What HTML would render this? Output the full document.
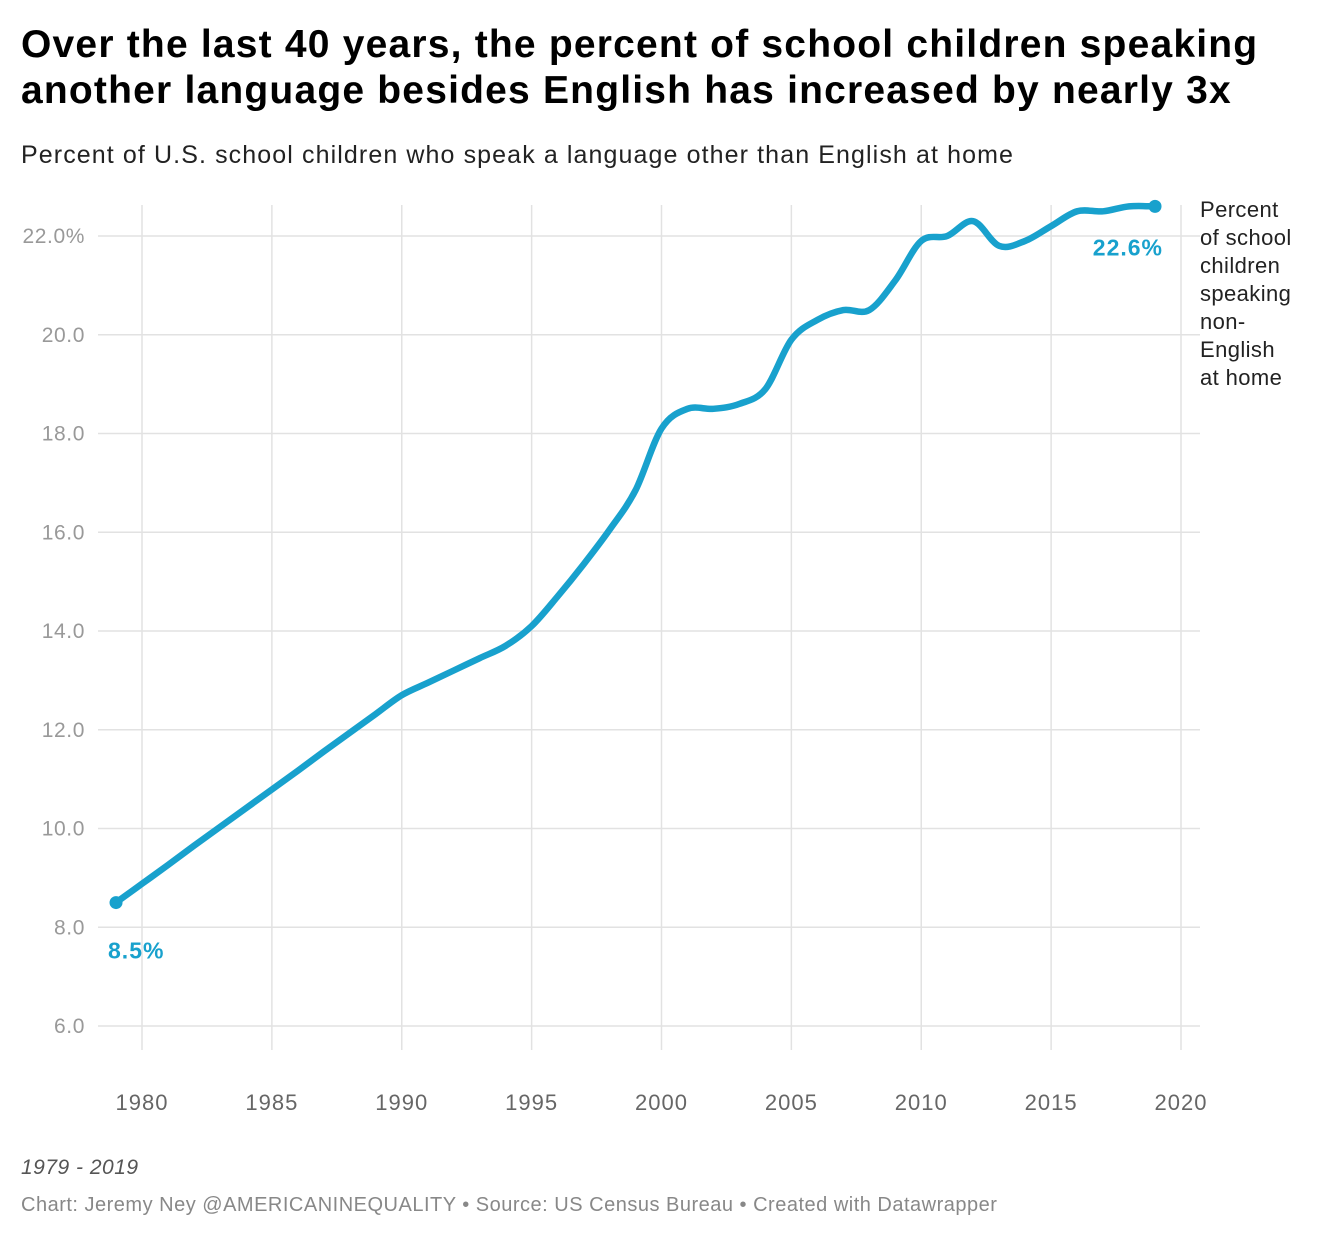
<!DOCTYPE html>
<html><head><meta charset="utf-8">
<style>
body{margin:0;background:#fff;font-family:"Liberation Sans",Roboto,sans-serif;}
#wrap{position:relative;width:1340px;height:1240px;overflow:hidden;}
h1{position:absolute;left:21px;top:22px;margin:0;font-size:39px;line-height:46px;font-weight:bold;color:#000;letter-spacing:1.2px;white-space:nowrap;}
.sub{position:absolute;left:21px;top:141px;font-size:25px;color:#222;letter-spacing:1.1px;white-space:nowrap;}
.note{position:absolute;left:21px;top:1156px;font-size:21px;font-style:italic;color:#555;letter-spacing:0.5px;}
.foot{position:absolute;left:21px;top:1194px;font-size:20px;color:#888;letter-spacing:0.5px;white-space:nowrap;}
svg{position:absolute;left:0;top:0;}
</style></head><body>
<div id="wrap">
<h1>Over the last 40 years, the percent of school children speaking<br>another language besides English has increased by nearly 3x</h1>
<div class="sub">Percent of U.S. school children who speak a language other than English at home</div>
<svg id="chart" width="1340" height="1240"></svg>
<div class="note">1979 - 2019</div>
<div class="foot">Chart: Jeremy Ney @AMERICANINEQUALITY • Source: US Census Bureau • Created with Datawrapper</div>
</div>
<script>
const years=[1979,1980,1981,1982,1983,1984,1985,1986,1987,1988,1989,1990,1991,1992,1993,1994,1995,1996,1997,1998,1999,2000,2001,2002,2003,2004,2005,2006,2007,2008,2009,2010,2011,2012,2013,2014,2015,2016,2017,2018,2019];
const values=[8.5,8.88,9.26,9.65,10.03,10.41,10.79,11.17,11.56,11.94,12.32,12.7,12.95,13.2,13.45,13.7,14.1,14.7,15.35,16.05,16.85,18.1,18.5,18.5,18.6,18.9,19.9,20.3,20.5,20.5,21.1,21.9,22.0,22.3,21.8,21.9,22.2,22.5,22.5,22.6,22.6];
const yTicks=[6,8,10,12,14,16,18,20,22];
const xTicks=[1980,1985,1990,1995,2000,2005,2010,2015,2020];
const NS="http://www.w3.org/2000/svg";
const svg=document.getElementById('chart');
const x=y=>142+(y-1980)*(1181-142)/40;
const yS=v=>1026-(v-6)*(1026-236)/16;
function mk(t,a,txt){const e=document.createElementNS(NS,t);for(const k in a)e.setAttribute(k,a[k]);if(txt!=null)e.textContent=txt;svg.appendChild(e);return e;}
yTicks.forEach(v=>{
 const l=mk('line',{x1:98,x2:1200,y1:yS(v),y2:yS(v),stroke:'#e2e2e2','stroke-width':1.5});
 
 
 const t=mk('text',{x:85,y:yS(v)+7,'text-anchor':'end','font-size':21,'letter-spacing':0.6,fill:'#999','font-family':'Liberation Sans, sans-serif'},v.toFixed(1)+(v===22?'%':''));
 
 
});
xTicks.forEach(v=>{
 const l=mk('line',{x1:x(v),x2:x(v),y1:205,y2:1050,stroke:'#e2e2e2','stroke-width':1.5});
 
 
 const t=mk('text',{x:x(v),y:1110,'text-anchor':'middle','font-size':22,'letter-spacing':1,fill:'#666','font-family':'Liberation Sans, sans-serif'},String(v));
 
 
});
const P=years.map((yr,i)=>[x(yr),yS(values[i])]);
let d='M'+P[0][0]+','+P[0][1];
for(let i=0;i<P.length-1;i++){
 const p0=P[i-1]||P[i],p1=P[i],p2=P[i+1],p3=P[i+2]||P[i+1];
 const c1=[p1[0]+(p2[0]-p0[0])/6,p1[1]+(p2[1]-p0[1])/6];
 const c2=[p2[0]-(p3[0]-p1[0])/6,p2[1]-(p3[1]-p1[1])/6];
 d+=` C${c1[0]},${c1[1]} ${c2[0]},${c2[1]} ${p2[0]},${p2[1]}`;
}
const line=mk('path',{d:d,fill:'none',stroke:'#18a1cd','stroke-width':6.5,'stroke-linecap':'round','stroke-linejoin':'round'});


const n=P.length-1;
const d1=mk('circle',{cx:P[0][0],cy:P[0][1],r:6.5,fill:'#18a1cd'});


const d2=mk('circle',{cx:P[n][0],cy:P[n][1],r:6.5,fill:'#18a1cd'});


const l1=mk('text',{x:P[0][0]-8,y:P[0][1]+56,'font-size':23,'letter-spacing':1,'font-weight':'bold',fill:'#18a1cd','font-family':'Liberation Sans, sans-serif'},values[0].toFixed(1)+'%');


const l2=mk('text',{x:P[n][0]+8,y:P[n][1]+49,'text-anchor':'end','font-size':23,'letter-spacing':1,'font-weight':'bold',fill:'#18a1cd','font-family':'Liberation Sans, sans-serif'},values[n].toFixed(1)+'%');


const lab=["Percent","of school","children","speaking","non-","English","at home"];
lab.forEach((s,i)=>{
 const t=mk('text',{x:1200,y:217+i*28,'font-size':22,'letter-spacing':0.4,fill:'#222','font-family':'Liberation Sans, sans-serif'},s);
 
 
});
</script>
</body></html>
